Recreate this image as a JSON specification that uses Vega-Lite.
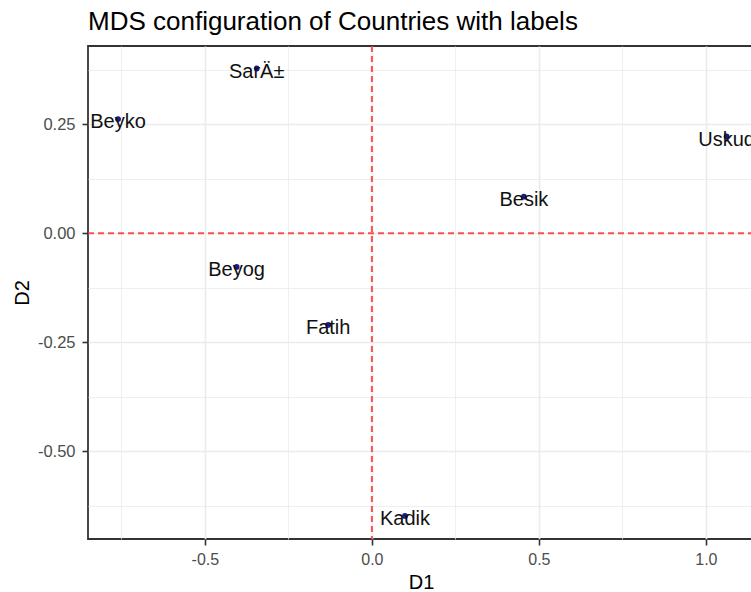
{
  "$schema": "https://vega.github.io/schema/vega-lite/v6.json",
  "autosize": "none",
  "padding": {"left": 88, "top": 46, "right": 0, "bottom": 53},
  "width": 666,
  "height": 493,
  "background": "white",
  "title": {"text": "MDS configuration of Countries with labels", "anchor": "start", "frame": "group", "font": "Liberation Sans", "fontSize": 26, "fontWeight": "normal", "color": "#000000", "offset": 10},
  "config": {
    "view": {"stroke": "#333333", "strokeWidth": 1.8},
    "font": "Liberation Sans"
  },
  "data": {"values": [
    {"D1": -0.760, "D2": 0.262, "label": "Beyko"},
    {"D1": -0.345, "D2": 0.378, "label": "SarÄ±"},
    {"D1": -0.405, "D2": -0.077, "label": "Beyog"},
    {"D1": -0.131, "D2": -0.210, "label": "Fatih"},
    {"D1": 0.455, "D2": 0.084, "label": "Besik"},
    {"D1": 1.062, "D2": 0.222, "label": "Uskud"},
    {"D1": 0.099, "D2": -0.648, "label": "Kadik"}
  ]},
  "encoding": {
    "x": {"field": "D1", "type": "quantitative", "title": "D1",
      "scale": {"domain": [-0.85, 1.144], "nice": false, "zero": false},
      "axis": {
        "values": [-0.75, -0.5, -0.25, 0, 0.25, 0.5, 0.75, 1.0],
        "labelExpr": "abs(datum.value*2 - round(datum.value*2)) < 0.001 ? replace(format(datum.value, '.1f'), '\u2212', '-') : ''",
        "domain": false,
        "grid": true,
        "gridColor": "#ebebeb",
        "gridWidth": {"condition": {"test": "abs(datum.value*2 - round(datum.value*2)) < 0.001", "value": 1.6}, "value": 0.8},
        "tickSize": {"condition": {"test": "abs(datum.value*2 - round(datum.value*2)) < 0.001", "value": 6}, "value": 0},
        "tickColor": "#333333", "tickWidth": 1.6,
        "labelFont": "Liberation Sans", "labelFontSize": 16, "labelColor": "#4d4d4d", "labelPadding": 6,
        "titleFont": "Liberation Sans", "titleFontSize": 20, "titleFontWeight": "normal", "titleColor": "#000000", "titlePadding": 5
      }
    },
    "y": {"field": "D2", "type": "quantitative", "title": "D2",
      "scale": {"domain": [-0.701, 0.4296], "nice": false, "zero": false},
      "axis": {
        "values": [0.375, 0.25, 0.125, 0, -0.125, -0.25, -0.375, -0.5, -0.625],
        "labelExpr": "abs(datum.value*4 - round(datum.value*4)) < 0.001 ? replace(format(datum.value, '.2f'), '\u2212', '-') : ''",
        "domain": false,
        "grid": true,
        "gridColor": "#ebebeb",
        "gridWidth": {"condition": {"test": "abs(datum.value*4 - round(datum.value*4)) < 0.001", "value": 1.6}, "value": 0.8},
        "tickSize": {"condition": {"test": "abs(datum.value*4 - round(datum.value*4)) < 0.001", "value": 6}, "value": 0},
        "tickColor": "#333333", "tickWidth": 1.6,
        "labelFont": "Liberation Sans", "labelFontSize": 16.5, "labelColor": "#4d4d4d", "labelPadding": 7,
        "titleFont": "Liberation Sans", "titleFontSize": 20, "titleFontWeight": "normal", "titleColor": "#000000", "titlePadding": 5
      }
    }
  },
  "layer": [
    {
      "data": {"values": [{"z": 0}]},
      "mark": {"type": "rule", "color": "#ff3333", "opacity": 0.85, "strokeWidth": 2, "strokeDash": [6, 4]},
      "encoding": {"x": {"field": "z", "type": "quantitative"}, "y": null}
    },
    {
      "data": {"values": [{"z": 0}]},
      "mark": {"type": "rule", "color": "#ff3333", "opacity": 0.85, "strokeWidth": 2, "strokeDash": [6, 4]},
      "encoding": {"y": {"field": "z", "type": "quantitative"}, "x": null}
    },
    {
      "mark": {"type": "point", "filled": true, "size": 34, "color": "#1a1a8f", "opacity": 1}
    },
    {
      "mark": {"type": "text", "font": "Liberation Sans", "fontSize": 20, "color": "#111111", "baseline": "middle", "align": "center", "dy": 3},
      "encoding": {"text": {"field": "label"}}
    }
  ]
}
